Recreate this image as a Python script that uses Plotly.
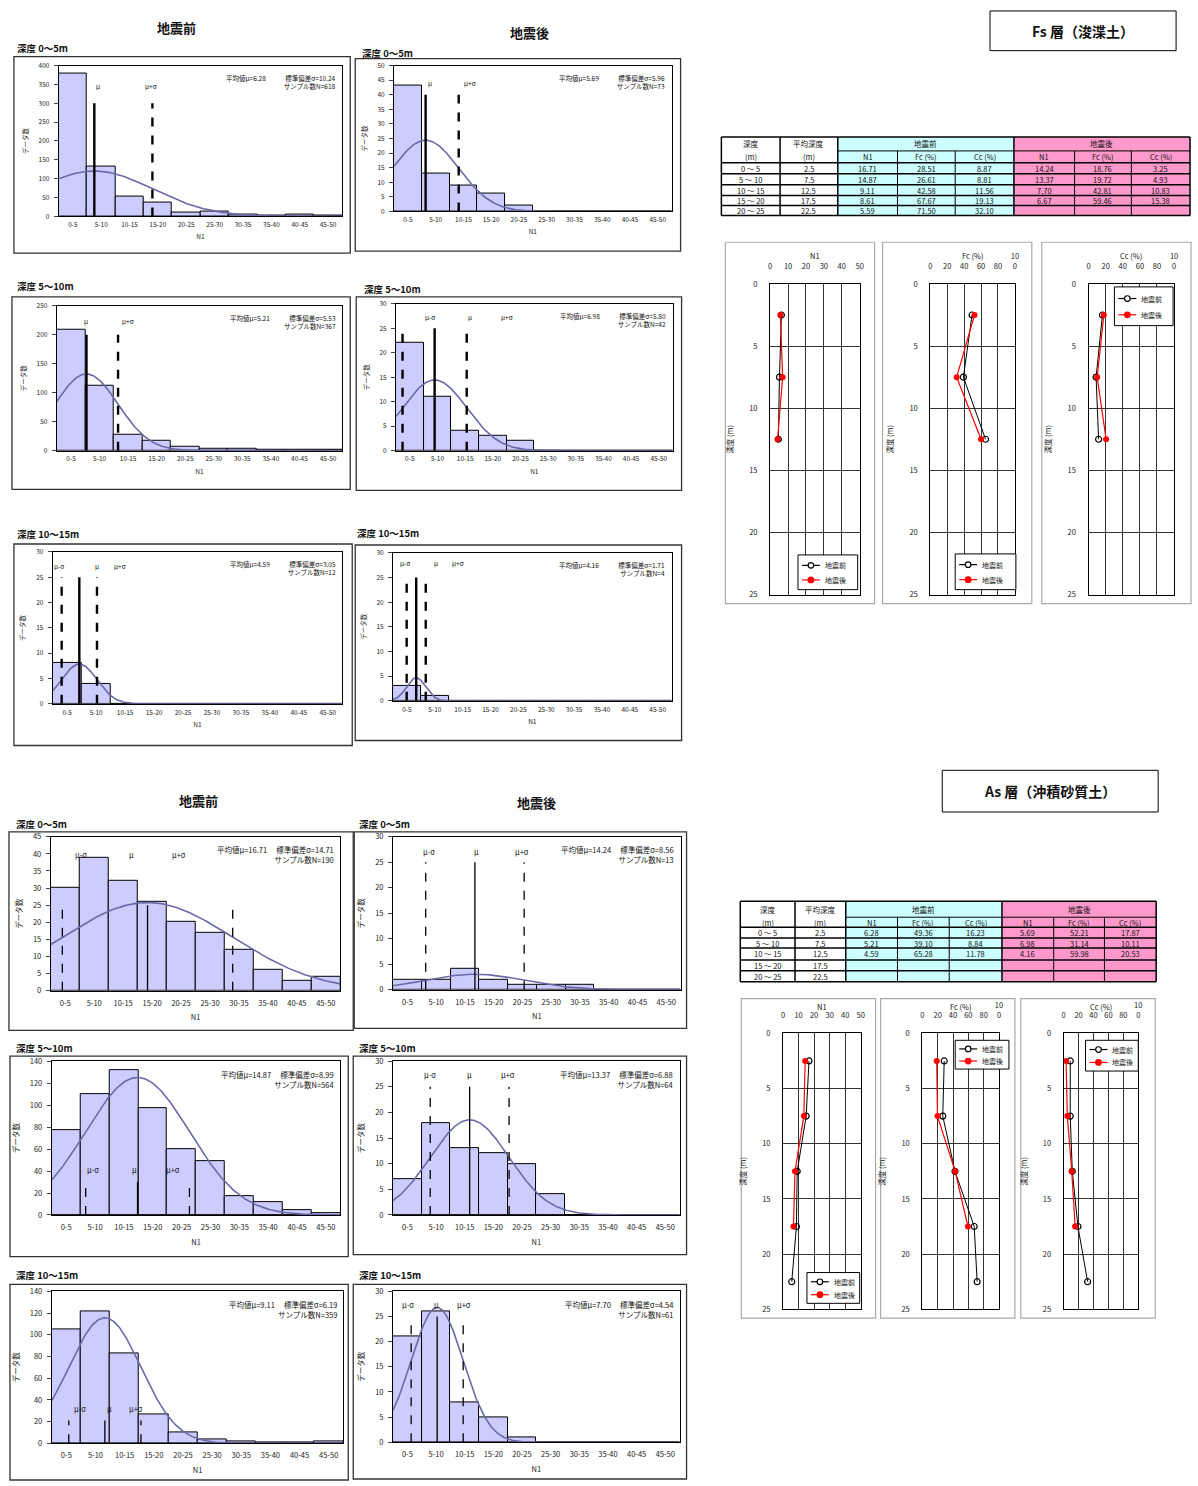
import numpy as np
import plotly.graph_objects as go

W, H = 1198, 1486
FONT = "Noto Sans CJK JP"

# ---------------- data ----------------
BIN_LABELS = ["0-5", "5-10", "10-15", "15-20", "20-25",
              "25-30", "30-35", "35-40", "40-45", "45-50"]
BIN_WIDTH = 5
DEPTH_LABELS = ["0 ～ 5", "5 ～ 10", "10 ～ 15", "15 ～ 20", "20 ～ 25"]
MEAN_DEPTH = [2.5, 7.5, 12.5, 17.5, 22.5]
DEPTH_TITLES = ["深度 0～5m", "深度 5～10m", "深度 10～15m"]
SERIES_NAMES = ["地震前", "地震後"]

# Fs layer: N1 class counts (before / after the earthquake), by depth band
fs_before_0_5 = [378, 132, 53, 37, 11, 13, 4, 2, 6, 2]
fs_before_5_10 = [208, 112, 27, 17, 6, 4, 3, 2, 1, 1]
fs_before_10_15 = [8, 4, 0, 0, 0, 0, 0, 0, 0, 0]
fs_after_0_5 = [43, 13, 9, 6, 2, 0, 0, 0, 0, 0]
fs_after_5_10 = [22, 11, 4, 3, 2, 0, 0, 0, 0, 0]
fs_after_10_15 = [3, 1, 0, 0, 0, 0, 0, 0, 0, 0]

# Fs layer: depth-band summary
fs_n1_before = [6.28, 5.21, 4.59]
fs_fc_before = [49.36, 39.10, 65.28]
fs_cc_before = [16.23, 8.84, 11.78]
fs_n1_after = [5.69, 6.98, 4.16]
fs_fc_after = [52.21, 31.14, 59.98]
fs_cc_after = [17.87, 10.11, 20.53]
fs_sd_before = [10.24, 5.53, 3.05]
fs_sd_after = [5.96, 5.80, 1.71]
fs_count_before = [618, 367, 12]
fs_count_after = [73, 42, 4]

# As layer: N1 class counts
as_before_0_5 = [30, 39, 32, 26, 20, 17, 12, 6, 3, 4]
as_before_5_10 = [77, 110, 132, 97, 60, 49, 17, 12, 4, 2]
as_before_10_15 = [105, 122, 83, 27, 10, 4, 2, 1, 1, 2]
as_after_0_5 = [2, 2, 4, 2, 1, 1, 1, 0, 0, 0]
as_after_5_10 = [7, 18, 13, 12, 10, 4, 0, 0, 0, 0]
as_after_10_15 = [21, 26, 8, 5, 1, 0, 0, 0, 0, 0]

# As layer: depth-band summary
as_n1_before = [16.71, 14.87, 9.11, 8.61, 5.59]
as_fc_before = [28.51, 26.61, 42.58, 67.67, 71.50]
as_cc_before = [8.87, 8.81, 11.56, 19.13, 32.10]
as_n1_after = [14.24, 13.37, 7.70, 6.67]
as_fc_after = [18.76, 19.72, 42.81, 59.46]
as_cc_after = [3.25, 4.93, 10.83, 15.38]
as_sd_before = [14.71, 8.99, 6.19]
as_sd_after = [8.56, 6.88, 4.54]
as_count_before = [190, 564, 359]
as_count_after = [13, 64, 61]

# ---------------- styling ----------------
BAR_FILL = "#ccccff"
CURVE = "#6a6aaa"
CYAN = "#ccffff"
PINK = "#ff99cc"
SERIES_COLORS = ["black", "red"]

shapes, annotations, axes = [], [], {}
fig = go.Figure()


def fx(x):
    return x / W


def fy(y):
    return 1 - y / H


def rect(x0, x1, y0, y1, color="black", width=1, fill="rgba(0,0,0,0)"):
    shapes.append(dict(type="rect", xref="paper", yref="paper",
                       x0=fx(x0), x1=fx(x1), y0=fy(y1), y1=fy(y0),
                       line=dict(color=color, width=width), fillcolor=fill))


def hline(x0, x1, y, width=1, color="black"):
    shapes.append(dict(type="line", xref="paper", yref="paper",
                       x0=fx(x0), x1=fx(x1), y0=fy(y), y1=fy(y),
                       line=dict(color=color, width=width)))


def vline(x, y0, y1, width=1, color="black"):
    shapes.append(dict(type="line", xref="paper", yref="paper",
                       x0=fx(x), x1=fx(x), y0=fy(y0), y1=fy(y1),
                       line=dict(color=color, width=width)))


def dot(x, y, r, color, filled):
    shapes.append(dict(type="circle", xref="paper", yref="paper",
                       x0=fx(x - r), x1=fx(x + r), y0=fy(y + r), y1=fy(y - r),
                       line=dict(color=color, width=1.2),
                       fillcolor=color if filled else "white"))


def text(x, y, s, size=8, anchor="center", bold=False, color="#111"):
    annotations.append(dict(xref="paper", yref="paper", x=fx(x), y=fy(y),
                            text=f"<b>{s}</b>" if bold else s, showarrow=False,
                            xanchor=anchor, yanchor="middle",
                            font=dict(family=FONT, size=size, color=color)))


# ---------------- histogram panels ----------------
centers = [BIN_WIDTH * i + BIN_WIDTH / 2 for i in range(len(BIN_LABELS))]

HIST_LAYOUT = [
    # Fs layer
    dict(inner=(57, 342, 60, 212), outer=(12, 350, 51, 249), title=(13, 42), ymax=400, dtick=50,
         top=300, label_y=345, label_x=(None, 6.9, 16.3), lw=2.4, fs=6.5),
    dict(inner=(394, 673, 60, 207), outer=(355, 682, 53, 247), title=(360, 47), ymax=50, dtick=5,
         top=40, label_y=44, label_x=(None, 6.4, 13.6), lw=2.4, fs=6.5),
    dict(inner=(55, 342, 302, 448), outer=(10, 350, 293, 487), title=(13, 282), ymax=250, dtick=50,
         top=200, label_y=223, label_x=(None, 5.2, 12.5), lw=2.4, fs=6.5),
    dict(inner=(396, 674, 300, 448), outer=(356, 683, 293, 488), title=(362, 285), ymax=30, dtick=5,
         top=25, label_y=27.4, label_x=(6.1, 13.3, 20.1), lw=2.4, fs=6.5),
    dict(inner=(51, 342, 550, 703), outer=(12, 352, 542, 745), title=(13, 532), ymax=30, dtick=5,
         top=25, label_y=27.3, label_x=(1.1, 7.6, 11.6), lw=2.4, fs=6.5),
    dict(inner=(393, 673, 551, 700), outer=(355, 683, 543, 740), title=(355, 531), ymax=30, dtick=5,
         top=25, label_y=27.9, label_x=(2.1, 7.7, 11.7), lw=2.4, fs=6.5),
    # As layer
    dict(inner=(49, 340, 837, 992), outer=(7, 353, 832, 1032), title=(12, 824), ymax=45, dtick=5,
         top=25, label_y=39.9, label_x=(5.3, 13.9, 22.1), lw=1.3, fs=7.5),
    dict(inner=(393, 682, 837, 991), outer=(354, 688, 832, 1030), title=(357, 824), ymax=30, dtick=5,
         top=25, label_y=27.2, label_x=(6.3, 14.5, 22.5), lw=1.3, fs=7.5),
    dict(inner=(50, 340, 1063, 1218), outer=(8, 348, 1058, 1260), title=(12, 1050), ymax=140, dtick=20,
         top=30, label_y=41.5, label_x=(7.1, 14.3, 21.0), lw=1.3, fs=7.5),
    dict(inner=(393, 681, 1063, 1218), outer=(353, 688, 1058, 1258), title=(357, 1050), ymax=30, dtick=5,
         top=25, label_y=27.3, label_x=(6.4, 13.4, 20.0), lw=1.3, fs=7.5),
    dict(inner=(50, 343, 1295, 1448), outer=(8, 348, 1288, 1485), title=(12, 1278), ymax=140, dtick=20,
         top=21, label_y=32, label_x=(4.8, 9.9, 14.5), lw=1.3, fs=7.5),
    dict(inner=(393, 681, 1295, 1447), outer=(353, 688, 1288, 1484), title=(357, 1278), ymax=30, dtick=5,
         top=25, label_y=27.4, label_x=(2.6, 7.6, 12.3), lw=1.3, fs=7.5),
]

HIST_DATA = [
    (fs_before_0_5, fs_n1_before[0], fs_sd_before[0], fs_count_before[0]),
    (fs_after_0_5, fs_n1_after[0], fs_sd_after[0], fs_count_after[0]),
    (fs_before_5_10, fs_n1_before[1], fs_sd_before[1], fs_count_before[1]),
    (fs_after_5_10, fs_n1_after[1], fs_sd_after[1], fs_count_after[1]),
    (fs_before_10_15, fs_n1_before[2], fs_sd_before[2], fs_count_before[2]),
    (fs_after_10_15, fs_n1_after[2], fs_sd_after[2], fs_count_after[2]),
    (as_before_0_5, as_n1_before[0], as_sd_before[0], as_count_before[0]),
    (as_after_0_5, as_n1_after[0], as_sd_after[0], as_count_after[0]),
    (as_before_5_10, as_n1_before[1], as_sd_before[1], as_count_before[1]),
    (as_after_5_10, as_n1_after[1], as_sd_after[1], as_count_after[1]),
    (as_before_10_15, as_n1_before[2], as_sd_before[2], as_count_before[2]),
    (as_after_10_15, as_n1_after[2], as_sd_after[2], as_count_after[2]),
]

for k, ((counts, mu, sd, n), spec) in enumerate(zip(HIST_DATA, HIST_LAYOUT)):
    sfx = "" if k == 0 else str(k + 1)
    xr, yr = "x" + sfx, "y" + sfx
    x0, x1, y0, y1 = spec["inner"]
    fs = spec["fs"]
    is_as = k >= 6

    fig.add_trace(go.Bar(x=centers, y=counts, width=BIN_WIDTH, xaxis=xr, yaxis=yr,
                         marker=dict(color=BAR_FILL, line=dict(color="black", width=1)),
                         showlegend=False, hoverinfo="skip"))
    # fitted normal curve scaled to class width and sample size
    xs = np.linspace(0, 50, 251)
    ys = n * BIN_WIDTH / (sd * np.sqrt(2 * np.pi)) * np.exp(-0.5 * ((xs - mu) / sd) ** 2)
    fig.add_trace(go.Scatter(x=xs, y=ys, mode="lines", xaxis=xr, yaxis=yr,
                             line=dict(color=CURVE, width=1.6), showlegend=False, hoverinfo="skip"))

    # mean and mean ± sigma markers
    for j, (xv, dash, lab) in enumerate([(mu - sd, "dash", "μ-σ"), (mu, "solid", "μ"), (mu + sd, "dash", "μ+σ")]):
        if xv <= 0:
            continue
        shapes.append(dict(type="line", xref=xr, yref=yr, x0=xv, x1=xv, y0=0, y1=spec["top"],
                           line=dict(color="black", width=spec["lw"], dash=dash)))
        lx = spec["label_x"][j]
        if lx is not None:
            annotations.append(dict(xref=xr, yref=yr, x=lx, y=spec["label_y"], text=lab, showarrow=False,
                                    xanchor="center", yanchor="middle",
                                    font=dict(family=FONT, size=fs, color="#111")))

    gap = "　 " if is_as else "　　　"
    annotations.append(dict(xref=xr + " domain", yref=yr + " domain", x=0.985, y=0.965,
                            xanchor="right", yanchor="top", align="right", showarrow=False,
                            text=f"平均値μ={mu:.2f}{gap}標準偏差σ={sd:.2f}<br>サンプル数N={n}",
                            font=dict(family=FONT, size=fs, color="#111")))

    axes["xaxis" + sfx] = dict(domain=[fx(x0), fx(x1)], anchor=yr, range=[0, 50],
                               tickvals=centers, ticktext=BIN_LABELS, ticks="", showgrid=False,
                               zeroline=False, showline=True, mirror=True, linecolor="black",
                               linewidth=1, tickfont=dict(size=fs, color="#222"),
                               ticklabelstandoff=5 if is_as else 2,
                               title=dict(text="N1", font=dict(size=fs), standoff=8 if is_as else 6))
    axes["yaxis" + sfx] = dict(domain=[fy(y1), fy(y0)], anchor=xr, range=[0, spec["ymax"]],
                               dtick=spec["dtick"], ticks="outside", ticklen=4, showgrid=False,
                               zeroline=False, showline=True, mirror=True, linecolor="black",
                               linewidth=1, tickfont=dict(size=fs, color="#222"),
                               ticklabelstandoff=3,
                               title=dict(text="データ数", font=dict(size=fs), standoff=9))

    ox0, ox1, oy0, oy1 = spec["outer"]
    rect(ox0, ox1, oy0, oy1, color="#333", width=1.3)
    tx, ty = spec["title"]
    text(tx, ty, DEPTH_TITLES[k % 6 // 2], size=9.5, anchor="left", bold=True)

# column titles
text(175, 22, "地震前", size=13, bold=True)
text(530, 27, "地震後", size=13, bold=True)
text(197, 800, "地震前", size=13, bold=True)
text(537, 802, "地震後", size=13, bold=True)

# layer headings
rect(993, 1180, 5, 45, color="black", width=1)
text(1086, 25, "Fs 層（浚渫土）", size=14, bold=True)
rect(945, 1162, 770, 812, color="black", width=1)
text(1053, 791, "As 層（沖積砂質土）", size=14, bold=True)


# ---------------- tables ----------------
def draw_table(cols, rows, before, after, fsize=7.5):
    rect(cols[2], cols[5], rows[0], rows[-1], color="rgba(0,0,0,0)", width=0, fill=CYAN)
    rect(cols[5], cols[8], rows[0], rows[-1], color="rgba(0,0,0,0)", width=0, fill=PINK)
    hline(cols[0], cols[8], rows[0], 1.5)
    hline(cols[2], cols[8], rows[1], 1)
    for r in rows[2:]:
        hline(cols[0], cols[8], r, 1.5)
    for c in (cols[0], cols[1], cols[2], cols[5], cols[8]):
        vline(c, rows[0], rows[-1], 1.5)
    for c in (cols[3], cols[4], cols[6], cols[7]):
        vline(c, rows[1], rows[-1], 1)
    cx = [(cols[i] + cols[i + 1]) / 2 for i in range(8)]
    text(cx[0], (rows[0] + rows[1]) / 2, "深度", fsize)
    text(cx[0], (rows[1] + rows[2]) / 2, "(m)", fsize)
    text(cx[1], (rows[0] + rows[1]) / 2, "平均深度", fsize)
    text(cx[1], (rows[1] + rows[2]) / 2, "(m)", fsize)
    text((cols[2] + cols[5]) / 2, (rows[0] + rows[1]) / 2, SERIES_NAMES[0], fsize)
    text((cols[5] + cols[8]) / 2, (rows[0] + rows[1]) / 2, SERIES_NAMES[1], fsize)
    for i, h in enumerate(["N1", "Fc (%)", "Cc (%)"]):
        text(cx[2 + i], (rows[1] + rows[2]) / 2, h, fsize)
        text(cx[5 + i], (rows[1] + rows[2]) / 2, h, fsize)
    for r in range(5):
        yc = (rows[2 + r] + rows[3 + r]) / 2
        text(cx[0], yc, DEPTH_LABELS[r], fsize)
        text(cx[1], yc, f"{MEAN_DEPTH[r]}", fsize)
        for i, series in enumerate(before):
            if r < len(series):
                text(cx[2 + i], yc, f"{series[r]:.2f}", fsize)
        for i, series in enumerate(after):
            if r < len(series):
                text(cx[5 + i], yc, f"{series[r]:.2f}", fsize)


draw_table([723, 782, 840, 900, 958, 1017, 1078, 1135, 1194],
           [132, 146, 158, 169, 180, 191, 201, 211],
           [as_n1_before, as_fc_before, as_cc_before],
           [as_n1_after, as_fc_after, as_cc_after], fsize=7.5)
draw_table([742, 797, 848, 900, 952, 1005, 1057, 1108, 1160],
           [902, 918, 928, 939, 949, 961, 972, 983],
           [fs_n1_before, fs_fc_before, fs_cc_before],
           [fs_n1_after, fs_fc_after, fs_cc_after], fsize=7.5)

# ---------------- depth profiles ----------------
PROFILE_LAYOUT = [
    dict(inner=(772, 862, 280, 593), outer=(727, 877, 238, 602), title_y=251, legend=(800, 860, 553, 588)),
    dict(inner=(933, 1018, 280, 593), outer=(885, 1035, 238, 602), title_y=251, legend=(958, 1019, 552, 588)),
    dict(inner=(1092, 1178, 280, 593), outer=(1045, 1195, 238, 602), title_y=251, legend=(1118, 1177, 283, 322)),
    dict(inner=(785, 863, 1035, 1313), outer=(743, 878, 1000, 1322), title_y=1008, legend=(809, 862, 1276, 1307)),
    dict(inner=(925, 1002, 1035, 1313), outer=(883, 1018, 1000, 1322), title_y=1008, legend=(958, 1012, 1042, 1071)),
    dict(inner=(1067, 1142, 1035, 1313), outer=(1024, 1159, 1000, 1322), title_y=1008, legend=(1089, 1142, 1042, 1073)),
]

PROFILE_DATA = [
    ("N1", fs_n1_before, fs_n1_after, 50),
    ("Fc (%)", fs_fc_before, fs_fc_after, 100),
    ("Cc (%)", fs_cc_before, fs_cc_after, 100),
    ("N1", as_n1_before, as_n1_after, 50),
    ("Fc (%)", as_fc_before, as_fc_after, 100),
    ("Cc (%)", as_cc_before, as_cc_after, 100),
]

for k, ((xtitle, before, after, xmax), spec) in enumerate(zip(PROFILE_DATA, PROFILE_LAYOUT)):
    idx = 13 + k
    sfx = str(idx)
    xr, yr = "x" + sfx, "y" + sfx
    fig.add_trace(go.Scatter(x=before, y=MEAN_DEPTH[:len(before)], mode="lines+markers",
                             name=SERIES_NAMES[0], xaxis=xr, yaxis=yr, showlegend=False,
                             line=dict(color=SERIES_COLORS[0], width=1),
                             marker=dict(symbol="circle-open", size=6, color=SERIES_COLORS[0],
                                         line=dict(width=1.2))))
    fig.add_trace(go.Scatter(x=after, y=MEAN_DEPTH[:len(after)], mode="lines+markers",
                             name=SERIES_NAMES[1], xaxis=xr, yaxis=yr, showlegend=False,
                             line=dict(color=SERIES_COLORS[1], width=1.2),
                             marker=dict(symbol="circle", size=6, color=SERIES_COLORS[1])))
    x0, x1, y0, y1 = spec["inner"]
    if xmax == 50:
        tv = [0, 10, 20, 30, 40, 50]
        tt = [str(v) for v in tv]
    else:
        tv = [0, 20, 40, 60, 80, 100]
        tt = ["0", "20", "40", "60", "80", "10<br>0"]
    axes["xaxis" + sfx] = dict(domain=[fx(x0), fx(x1)], anchor=yr, side="top", range=[0, xmax],
                               tickvals=tv, ticktext=tt, ticks="", showgrid=True, gridcolor="#333",
                               gridwidth=1, zeroline=False, showline=True, mirror=True,
                               linecolor="black", linewidth=1.2, tickfont=dict(size=7.5, color="#222"),
                               ticklabelstandoff=11)
    axes["yaxis" + sfx] = dict(domain=[fy(y1), fy(y0)], anchor=xr, range=[25, 0], dtick=5,
                               ticks="", showgrid=True, gridcolor="#333", gridwidth=1, zeroline=False,
                               showline=True, mirror=True, linecolor="black", linewidth=1.2,
                               tickfont=dict(size=7.5, color="#222"), ticklabelstandoff=10,
                               title=dict(text="深度 (m)", font=dict(size=7.5), standoff=14))
    text((x0 + x1) / 2, spec["title_y"], xtitle, size=7.5)

    # legend box
    lx0, lx1, ly0, ly1 = spec["legend"]
    rect(lx0, lx1, ly0, ly1, color="black", width=1, fill="white")
    for i in range(2):
        yy = ly0 + (ly1 - ly0) * (0.3 + 0.42 * i)
        hline(lx0 + 4, lx0 + 22, yy, width=1.2, color=SERIES_COLORS[i])
        dot(lx0 + 13, yy, 2.8, SERIES_COLORS[i], filled=(i == 1))
        text(lx0 + 25, yy, SERIES_NAMES[i], size=7, anchor="left")

    ox0, ox1, oy0, oy1 = spec["outer"]
    rect(ox0, ox1, oy0, oy1, color="#aaaaaa", width=1.2)

fig.update_layout(
    width=W, height=H, margin=dict(l=0, r=0, t=0, b=0),
    paper_bgcolor="white", plot_bgcolor="white",
    font=dict(family=FONT, size=8, color="#222"),
    bargap=0, showlegend=False,
    shapes=shapes, annotations=annotations,
    **axes,
)

fig.write_html("out.html")
